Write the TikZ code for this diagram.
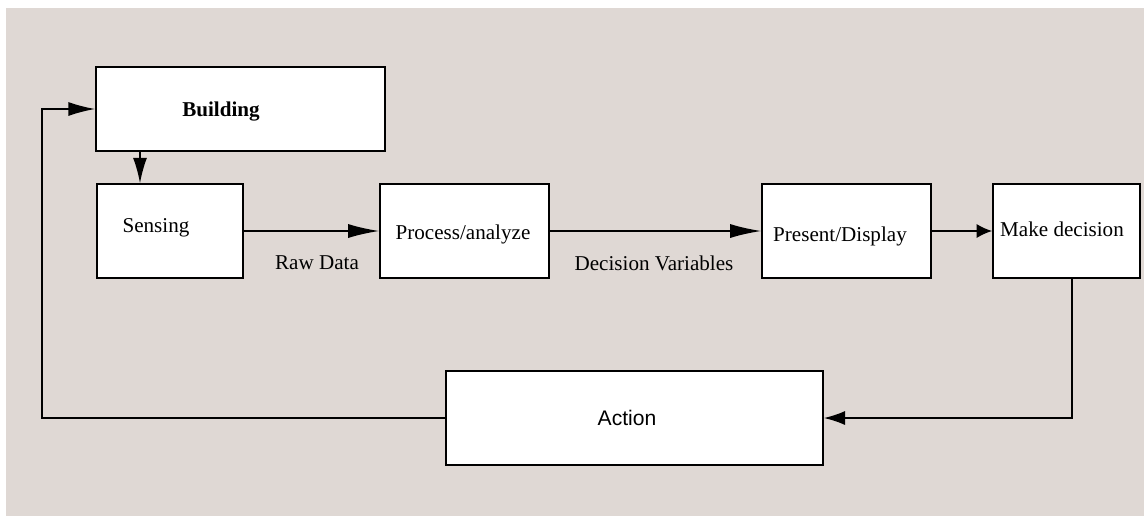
\documentclass[tikz,border=0pt]{standalone}
\usepackage{fontspec}
\setmainfont{Liberation Serif}
\setsansfont{Liberation Sans}
\usetikzlibrary{arrows.meta}

\newlength\px
\setlength\px{0.025cm}
\definecolor{canvas}{RGB}{223,216,212}

\tikzset{
	block/.style={draw, fill=white, line width=1.3pt, inner sep=0pt},
	word/.style={font=\fontsize{15}{18}\selectfont, inner sep=0pt},
	flow/.style={-{Latex[length=#1, width=10pt]}, line width=1pt},
	flow/.default=22pt
}

\begin{document}
\begin{tikzpicture}[x=0.025cm, y=-0.025cm]
			
			\useasboundingbox (0,0) rectangle (1144,516);
			\fill[white] (0,0) rectangle (1144,516);
			\fill[canvas] (6,8) rectangle (1144,516);
			
			\node[block, minimum width=289*\px, minimum height=84*\px] (building) at (240.5,109) {};
			\node[block, minimum width=146*\px, minimum height=94*\px] (sensing) at (170,231) {};
			\node[block, minimum width=169*\px, minimum height=94*\px] (process) at (464.5,231) {};
			\node[block, minimum width=169*\px, minimum height=94*\px] (present) at (846.5,231) {};
			\node[block, minimum width=147*\px, minimum height=94*\px] (decide) at (1066.5,231) {};
			\node[block, minimum width=377*\px, minimum height=94*\px] (action) at (634.5,418) {};
			
			\node[word, font=\fontsize{15}{18}\selectfont\bfseries] (building-t) at (221,112) {Building};
			\node[word] (sensing-t) at (156,228) {Sensing};
			\node[word] (process-t) at (463,234) {Process/analyze};
			\node[word] (present-t) at (840,236) {Present/Display};
			\node[word] (decide-t) at (1062,229) {Make decision};
			\node[word, font=\fontsize{15}{18}\selectfont\sffamily] (action-t) at (627,418) {Action};
			
			\node[word] (rawdata) at (317,263) {Raw Data};
			\node[word] (decvars) at (654,263) {Decision Variables};
			
			\draw[flow=18pt] (building.south -| 140,0) -- (sensing.north -| 140,0);
			\draw[flow] (sensing) -- (process);
			\draw[flow] (process) -- (present);
			\draw[flow=11pt] (present) -- (decide);
			\draw[flow=15pt] (decide.south -| 1072,0) |- (action.east);
			\draw[flow=19pt] (action.west) -- (action.west -| 42,0) -- (building.west -| 42,0) -- (building.west);
		
		\end{tikzpicture}
\end{document}
